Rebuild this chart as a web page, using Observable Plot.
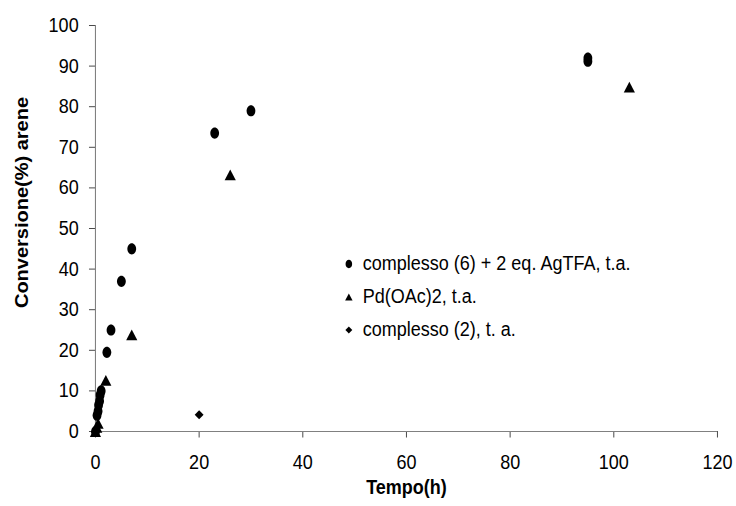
<!DOCTYPE html>
<html>
<head>
<meta charset="utf-8">
<script src="https://cdn.jsdelivr.net/npm/d3@7"></script>
<script src="https://cdn.jsdelivr.net/npm/@observablehq/plot@0.6"></script>
<style>
  html, body { margin: 0; padding: 0; background: white; }
  #chart { position: relative; width: 736px; height: 506px; overflow: hidden; font-family: "Liberation Sans", Arial, sans-serif; }
  #legend { position: absolute; left: 343px; top: 247px; transform: scaleX(0.9); transform-origin: 0 0; font-size: 20px; color: black; white-space: nowrap; }
  #legend .row { display: flex; align-items: center; height: 33px; }
  #legend svg { margin-right: 9px; flex: none; }
</style>
</head>
<body>
<div id="chart"></div>
<script>
// Conversion of the arene (%) over time (h) for three catalytic systems
const seriesNames = [
  "complesso (6) + 2 eq. AgTFA, t.a.",
  "Pd(OAc)2, t.a.",
  "complesso (2), t. a."
];

// complesso (6) + 2 eq. AgTFA
const timeAg = [0, 0.3, 0.5, 0.6, 0.8, 0.9, 1.1, 2.2, 3, 5, 7, 23, 30, 95, 95];
const convAg = [0, 4, 5, 6.5, 7.5, 9, 10, 19.5, 25, 37, 45, 73.5, 79, 91.2, 92];

// Pd(OAc)2
const timePd = [0, 0.25, 0.5, 2, 7, 26, 103];
const convPd = [0, 1, 2, 12.6, 23.8, 63.2, 84.8];

// complesso (2)
const timeC2 = [0, 20];
const convC2 = [0, 4.1];

const xTicks = [0, 20, 40, 60, 80, 100, 120];
const yTicks = [0, 10, 20, 30, 40, 50, 60, 70, 80, 90, 100];

const toRows = (t, c) => t.map((v, i) => ({time: v, conv: c[i]}));
const dataAg = toRows(timeAg, convAg);
const dataPd = toRows(timePd, convPd);
const dataC2 = toRows(timeC2, convC2);

// Marker shapes, centred on their bounding box
const ellipse = {
  draw(context, size) {
    const r = Math.sqrt(size / Math.PI), rx = 0.87 * r, ry = r, k = 0.5523;
    context.moveTo(rx, 0);
    context.bezierCurveTo(rx, ry * k, rx * k, ry, 0, ry);
    context.bezierCurveTo(-rx * k, ry, -rx, ry * k, -rx, 0);
    context.bezierCurveTo(-rx, -ry * k, -rx * k, -ry, 0, -ry);
    context.bezierCurveTo(rx * k, -ry, rx, -ry * k, rx, 0);
    context.closePath();
  }
};
const triangle = {
  draw(context, size) {
    const r = Math.sqrt(size / Math.PI), h = r, w = 1.15 * r;
    context.moveTo(0, -h);
    context.lineTo(w, h);
    context.lineTo(-w, h);
    context.closePath();
  }
};
const diamond = {
  draw(context, size) {
    const r = Math.sqrt(size / Math.PI), h = r, w = 1.1 * r;
    context.moveTo(0, -h);
    context.lineTo(w, 0);
    context.lineTo(0, h);
    context.lineTo(-w, 0);
    context.closePath();
  }
};

// The chart is laid out 10% wider and then drawn into 736px
const squeeze = 0.9;
const outWidth = 736, outHeight = 506;

const plot = Plot.plot({
  width: Math.round(outWidth / squeeze),
  height: outHeight,
  marginLeft: 105.6,
  marginRight: 21.1,
  marginTop: 25,
  marginBottom: 75,
  style: {fontFamily: "'Liberation Sans', Arial, sans-serif", fontSize: "20px", color: "black", background: "white"},
  x: {domain: [0, 120]},
  y: {domain: [0, 100]},
  marks: [
    Plot.axisX({ticks: xTicks, tickSize: 6.5, tickPadding: 17, fontSize: 20, stroke: "#404040", label: null}),
    Plot.axisY({ticks: yTicks, tickSize: 6.7, tickPadding: 12, fontSize: 20, stroke: "#404040", label: null}),
    Plot.ruleX([0], {stroke: "#808080", strokeWidth: 1.2}),
    Plot.ruleY([0], {stroke: "#808080", strokeWidth: 1.2}),
    Plot.dot(dataC2, {x: "time", y: "conv", symbol: diamond, r: 4.5, fill: "black", stroke: "none"}),
    Plot.dot(dataPd, {x: "time", y: "conv", symbol: triangle, r: 5.4, fill: "black", stroke: "none"}),
    Plot.dot(dataAg, {x: "time", y: "conv", symbol: ellipse, r: 5.6, fill: "black", stroke: "none"}),
    Plot.text(["Tempo(h)"], {frameAnchor: "bottom", dy: 62, fontWeight: "bold", fontSize: 20, fill: "black"}),
    Plot.text(["Conversione(%) arene"], {frameAnchor: "left", textAnchor: "middle", rotate: -90, dx: -81, dy: -26, fontWeight: "bold", fontSize: 20, fill: "black"})
  ]
});

plot.setAttribute("width", outWidth);
plot.setAttribute("height", outHeight);
plot.setAttribute("preserveAspectRatio", "none");
plot.style.width = outWidth + "px";
plot.style.height = outHeight + "px";
plot.style.maxWidth = "none";
plot.style.display = "block";

const chart = document.getElementById("chart");
chart.appendChild(plot);

// Legend inside the plot area
const legendShapes = [[ellipse, 4.2], [triangle, 3.6], [diamond, 3.5]];
const legend = document.createElement("div");
legend.id = "legend";
seriesNames.forEach((name, i) => {
  const [shape, r] = legendShapes[i];
  const row = document.createElement("div");
  row.className = "row";
  const sw = d3.create("svg").attr("width", 13).attr("height", 14);
  sw.append("path")
    .attr("transform", "translate(6.5,7)")
    .attr("d", d3.symbol(shape, r * r * Math.PI)())
    .attr("fill", "black");
  row.appendChild(sw.node());
  const label = document.createElement("span");
  label.textContent = name;
  row.appendChild(label);
  legend.appendChild(row);
});
chart.appendChild(legend);
</script>
</body>
</html>
